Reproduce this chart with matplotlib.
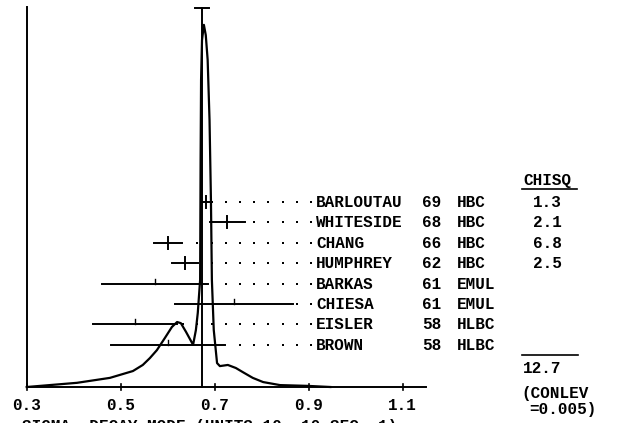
import numpy as np
import matplotlib
matplotlib.use("Agg")
import matplotlib.pyplot as plt

names = ["BARLOUTAU", "WHITESIDE", "CHANG", "HUMPHREY", "BARKAS", "CHIESA", "EISLER", "BROWN"]
years = ["69", "68", "66", "62", "61", "61", "58", "58"]
techniques = ["HBC", "HBC", "HBC", "HBC", "EMUL", "EMUL", "HLBC", "HLBC"]
values = [0.681, 0.727, 0.601, 0.637, 0.573, 0.741, 0.530, 0.601]
errors = [0.008, 0.037, 0.030, 0.027, 0.113, 0.126, 0.089, 0.121]
chisq = ["1.3", "2.1", "6.8", "2.5", "", "", "", ""]
chisq_total = "12.7"
conlev = "=0.005)"
mean_value = 0.672

# ideogram curve (x, relative height)
ideo_x = [0.300, 0.407, 0.477, 0.526, 0.547, 0.562, 0.577, 0.594, 0.609, 0.620,
          0.628, 0.639, 0.654, 0.660, 0.664, 0.669, 0.670, 0.671, 0.673, 0.677,
          0.681, 0.685, 0.689, 0.692, 0.694, 0.698, 0.705, 0.711, 0.728, 0.745,
          0.760, 0.781, 0.803, 0.839, 0.897, 0.946]
ideo_h = [0.000, 0.011, 0.024, 0.042, 0.058, 0.076, 0.097, 0.129, 0.158, 0.171,
          0.168, 0.145, 0.111, 0.150, 0.195, 0.282, 0.597, 0.808, 0.913, 0.953,
          0.926, 0.861, 0.703, 0.492, 0.282, 0.150, 0.063, 0.055, 0.058, 0.050,
          0.039, 0.024, 0.013, 0.005, 0.003, 0.000]

tick_vals = [0.3, 0.5, 0.7, 0.9, 1.1]
tick_labels = ["0.3", "0.5", "0.7", "0.9", "1.1"]

W, H = 622, 423
PX_PER_UNIT = 470.0
X0_PX = 26.7


def px2x(p):
    return 0.3 + (p - X0_PX) / PX_PER_UNIT


FONT = dict(family="Liberation Mono", fontsize=11.5, fontweight="bold", color="black")
LW = 1.4

fig = plt.figure(figsize=(W / 100, H / 100), dpi=100)
ax = fig.add_axes([0, 0, 1, 1])
ax.set_xlim(px2x(0), px2x(W))
ax.set_ylim(H, 0)
ax.axis("off")

base_y = 387
top_y = 7
ax.plot(ideo_x, base_y - 380 * np.array(ideo_h), color="black", lw=1.6)

# axes
ax.plot([0.3, 1.15], [base_y, base_y], color="black", lw=LW)
ax.plot([0.3, 0.3], [base_y, top_y], color="black", lw=LW)
for v, lab in zip(tick_vals, tick_labels):
    ax.plot([v, v], [base_y - 3, base_y + 3], color="black", lw=1.2)
    ax.text(v, 410, lab, ha="center", va="baseline", **FONT)

# weighted mean
ax.plot([mean_value, mean_value], [base_y, 8], color="black", lw=LW)
ax.plot([mean_value - 7 / PX_PER_UNIT, mean_value + 7 / PX_PER_UNIT], [8, 8],
        color="black", lw=LW)

# measurements
for i, (v, e) in enumerate(zip(values, errors)):
    y = 202 + 20.4 * i
    ax.plot([v - e, v + e], [y, y], color="black", lw=LW)
    if chisq[i]:
        ax.plot([v, v], [y - 6, y + 6], color="black", lw=LW)
    else:
        ax.plot([v, v], [y - 5, y], color="black", lw=1.0)
    end_px = X0_PX + (v + e - 0.3) * PX_PER_UNIT
    dots = [p for p in 311 - 14.2 * np.arange(12) if p > end_px + 2]
    ax.plot([px2x(p) for p in dots], [y] * len(dots), "s", color="black",
            ms=1.8, mew=0)
    ax.text(px2x(316), y + 5, names[i], ha="left", va="baseline", **FONT)
    ax.text(px2x(422), y + 5, years[i], ha="left", va="baseline", **FONT)
    ax.text(px2x(457), y + 5, techniques[i], ha="left", va="baseline", **FONT)
    if chisq[i]:
        ax.text(px2x(533), y + 5, chisq[i], ha="left", va="baseline", **FONT)

ax.text(px2x(523), 185, "CHISQ", ha="left", va="baseline", **FONT)
ax.plot([px2x(522), px2x(577)], [189, 189], color="black", lw=1.2)
ax.plot([px2x(522), px2x(578)], [355, 355], color="black", lw=1.2)
ax.text(px2x(523), 373, chisq_total, ha="left", va="baseline", **FONT)
ax.text(px2x(521), 398, "(CONLEV", ha="left", va="baseline", **FONT)
ax.text(px2x(529), 414, conlev, ha="left", va="baseline", **FONT)

ax.text(px2x(22), 431, "SIGMA  DECAY MODE (UNITS 10  10 SEC  1)",
        ha="left", va="baseline", **FONT)

fig.savefig("out.png", dpi=100)
